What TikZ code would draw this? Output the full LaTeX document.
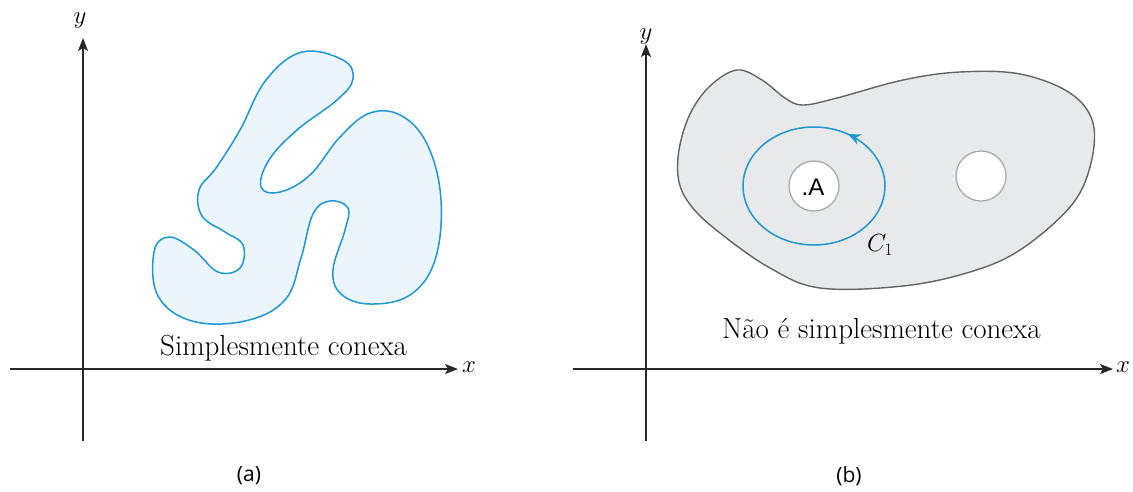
\documentclass[tikz,border=0pt]{standalone}
\usepackage{fontspec}
\newfontfamily\labfont{Open Sans}
\newfontfamily\afont{Liberation Sans}
\usetikzlibrary{arrows.meta,decorations.markings}
\definecolor{curveblue}{RGB}{28,152,212}
\definecolor{lightblue}{RGB}{236,245,252}
\definecolor{regiongray}{RGB}{232,233,235}
\definecolor{edgegray}{RGB}{100,100,100}
\definecolor{holegray}{RGB}{170,170,170}
\definecolor{axisgray}{RGB}{40,40,40}
\tikzset{
  axis/.style={draw=axisgray, line width=1.4pt, -{Stealth[length=13pt,width=10pt,inset=3pt]}},
  axlabel/.style={font=\fontsize{25}{30}\selectfont, inner sep=0pt},
  caption/.style={font=\fontsize{29}{32}\selectfont, inner sep=0pt, anchor=base west},
  sublabel/.style={font=\labfont\fontsize{21}{24}\selectfont, inner sep=0pt},
  hole/.style={circle, minimum size=50pt, inner sep=0pt, draw=holegray, line width=1.3pt, fill=white},
}
\begin{document}
\begin{tikzpicture}[x=1pt,y=-1pt]
\useasboundingbox (0,0) rectangle (1133,491);
% ---------- (a) ----------
\coordinate (ya0) at (83,441);
\coordinate (ya1) at (83,38);
\coordinate (xa0) at (10,369);
\coordinate (xa1) at (458,369);
\draw[curveblue, line width=1.5pt, fill=lightblue]
  plot[smooth cycle, tension=0.65] coordinates {
   (302,52) (343,60) (353,79) (337,100) (297,130) (269,160) (261,187) (280,192) (310,175)
   (340,137) (370,113) (402,116) (428,146) (441,200) (435,260) (410,295) (370,304) (341,294)
   (333,270) (345,230) (348,208) (330,201) (313,214) (301,258) (285,300) (245,321) (192,321)
   (158,296) (154,252) (169,237) (194,250) (218,272) (240,268) (243,245) (225,232) (202,216)
   (199,190) (216,168) (240,130) (266,80) };
\draw[axis] (ya0) -- (ya1);
\draw[axis] (xa0) -- (xa1);
\node[axlabel] (ylabA) at (80,21) {$y$};
\node[axlabel] (xlabA) at (469,367) {$x$};
\node[caption] (capA) at (160,355) {Simplesmente conexa};
\node[sublabel] (subA) at (249,476) {(a)};
% ---------- (b) ----------
\coordinate (yb0) at (646,441);
\coordinate (yb1) at (646,44);
\coordinate (xb0) at (573,369);
\coordinate (xb1) at (1113,369);
\draw[edgegray, line width=1.4pt, fill=regiongray]
  plot[smooth cycle, tension=0.6] coordinates {
   (737,70) (710,86) (690,114) (679,150) (679,182) (692,207) (720,233) (770,268) (820,288)
   (903,286) (970,272) (1020,250) (1070,207) (1090,167) (1093,123) (1070,93) (1020,74)
   (960,72) (903,80) (837,98) (803,105) (785,98) (762,80) };
\node[hole] (holeA) at (814,186) {};
\node[hole] (holeB) at (981,176) {};
\node[font=\afont\fontsize{24}{28}\selectfont, inner sep=0pt] (labA) at (813,187) {.A};
\draw[curveblue, line width=1.5pt,
  decoration={markings, mark=at position 0.165 with {\arrow{Stealth[length=13pt,width=11pt]}}},
  postaction={decorate}]
  (holeA.center) ++(71,0) arc[start angle=0, end angle=-360, x radius=71, y radius=59];
\draw[axis] (yb0) -- (yb1);
\draw[axis] (xb0) -- (xb1);
\node[axlabel] (ylabB) at (646,37) {$y$};
\node[axlabel] (xlabB) at (1123,367) {$x$};
\node[font=\fontsize{27}{30}\selectfont, inner sep=0pt] (c1) at (880,245) {$C_1$};
\node[caption] (capB) at (722,338) {Não é simplesmente conexa};
\node[sublabel] (subB) at (849,476) {(b)};
\end{tikzpicture}
\end{document}
